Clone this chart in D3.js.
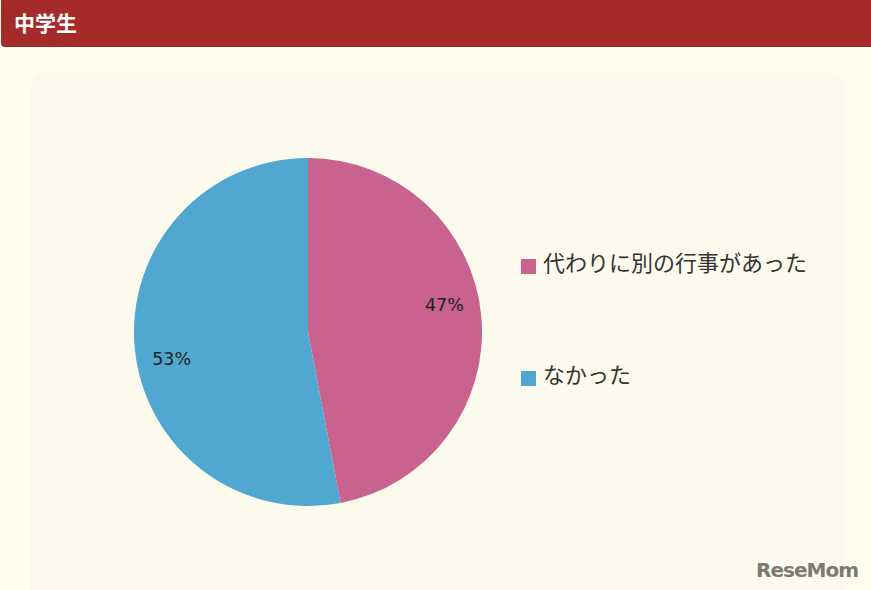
<!DOCTYPE html>
<html>
<head>
<meta charset="utf-8">
<script src="https://cdn.jsdelivr.net/npm/d3@7"></script>
<style>
  body { margin: 0; background: #fffdee; }
  svg { display: block; }
</style>
</head>
<body>
<div id="chart"></div>
<script>
// data
const title = "中学生";
const categories = ["代わりに別の行事があった", "なかった"];
const values = [47, 53];
const colors = ["#c9628f", "#50a7d0"];

const width = 871, height = 590;
const cx = 308, cy = 332, radius = 174;

const svg = d3.select("#chart")
  .append("svg")
  .attr("width", width)
  .attr("height", height);

//page background + inner panel
svg.append("rect")
  .attr("width", width).attr("height", height)
  .attr("fill", "#fffdee");
svg.append("rect")
  .attr("x", 30).attr("y", 72)
  .attr("width", 815).attr("height", 540)
  .attr("rx", 16)
  .attr("fill", "#fcfaec");

//header bar
svg.append("rect")
  .attr("x", 1).attr("y", -6)
  .attr("width", width + 4).attr("height", 53)
  .attr("rx", 4)
  .attr("fill", "#a52a2a");
svg.append("text")
  .text(title)
  .attr("x", 14).attr("y", 31)
  .attr("fill", "#fff")
  .attr("font-family", "'Noto Sans CJK JP', sans-serif")
  .attr("font-weight", "bold")
  .attr("font-size", 21);

//pie
const pie = d3.pie().sort(null).value(d => d);
const arcs = pie(values);
const arc = d3.arc().innerRadius(0).outerRadius(radius);

const g = svg.append("g").attr("transform", `translate(${cx},${cy})`);
g.selectAll("path")
  .data(arcs)
  .join("path")
    .attr("d", arc)
    .attr("fill", (d, i) => colors[i]);

//percentage labels (google-style placement sits a bit before mid angle)
const labelArc = d3.arc().innerRadius(139).outerRadius(139);
g.selectAll("text")
  .data(arcs)
  .join("text")
    .attr("transform", d => {
      const shift = -0.1;
      const c = labelArc.centroid({startAngle: d.startAngle + shift, endAngle: d.endAngle + shift});
      return `translate(${c[0]},${c[1]})`;
    })
    .attr("text-anchor", "middle")
    .attr("dy", "0.36em")
    .attr("font-family", "'DejaVu Sans', sans-serif")
    .attr("font-size", 17.5)
    .attr("fill", "#222")
    .text(d => d3.format(".0f")(d.value / d3.sum(values) * 100) + "%");

//legend
const legendY = d3.scalePoint().domain(categories).range([266, 378]);
const legend = svg.append("g")
  .selectAll("g")
  .data(categories)
  .join("g")
    .attr("transform", d => `translate(521,${legendY(d)})`);
legend.append("rect")
  .attr("x", 0).attr("y", -7)
  .attr("width", 15).attr("height", 15)
  .attr("fill", (d, i) => colors[i]);
legend.append("text")
  .attr("x", 22).attr("y", 5)
  .attr("font-family", "'Noto Sans CJK JP', sans-serif")
  .attr("font-size", 22)
  .attr("fill", "#333")
  .text(d => d);

//watermark
svg.append("text")
  .text("ReseMom")
  .attr("x", 858).attr("y", 577)
  .attr("text-anchor", "end")
  .attr("font-family", "'DejaVu Sans', sans-serif")
  .attr("font-weight", "bold")
  .attr("font-size", 20)
  .attr("letter-spacing", -1)
  .attr("fill", "#7b7b73");
</script>
</body>
</html>
